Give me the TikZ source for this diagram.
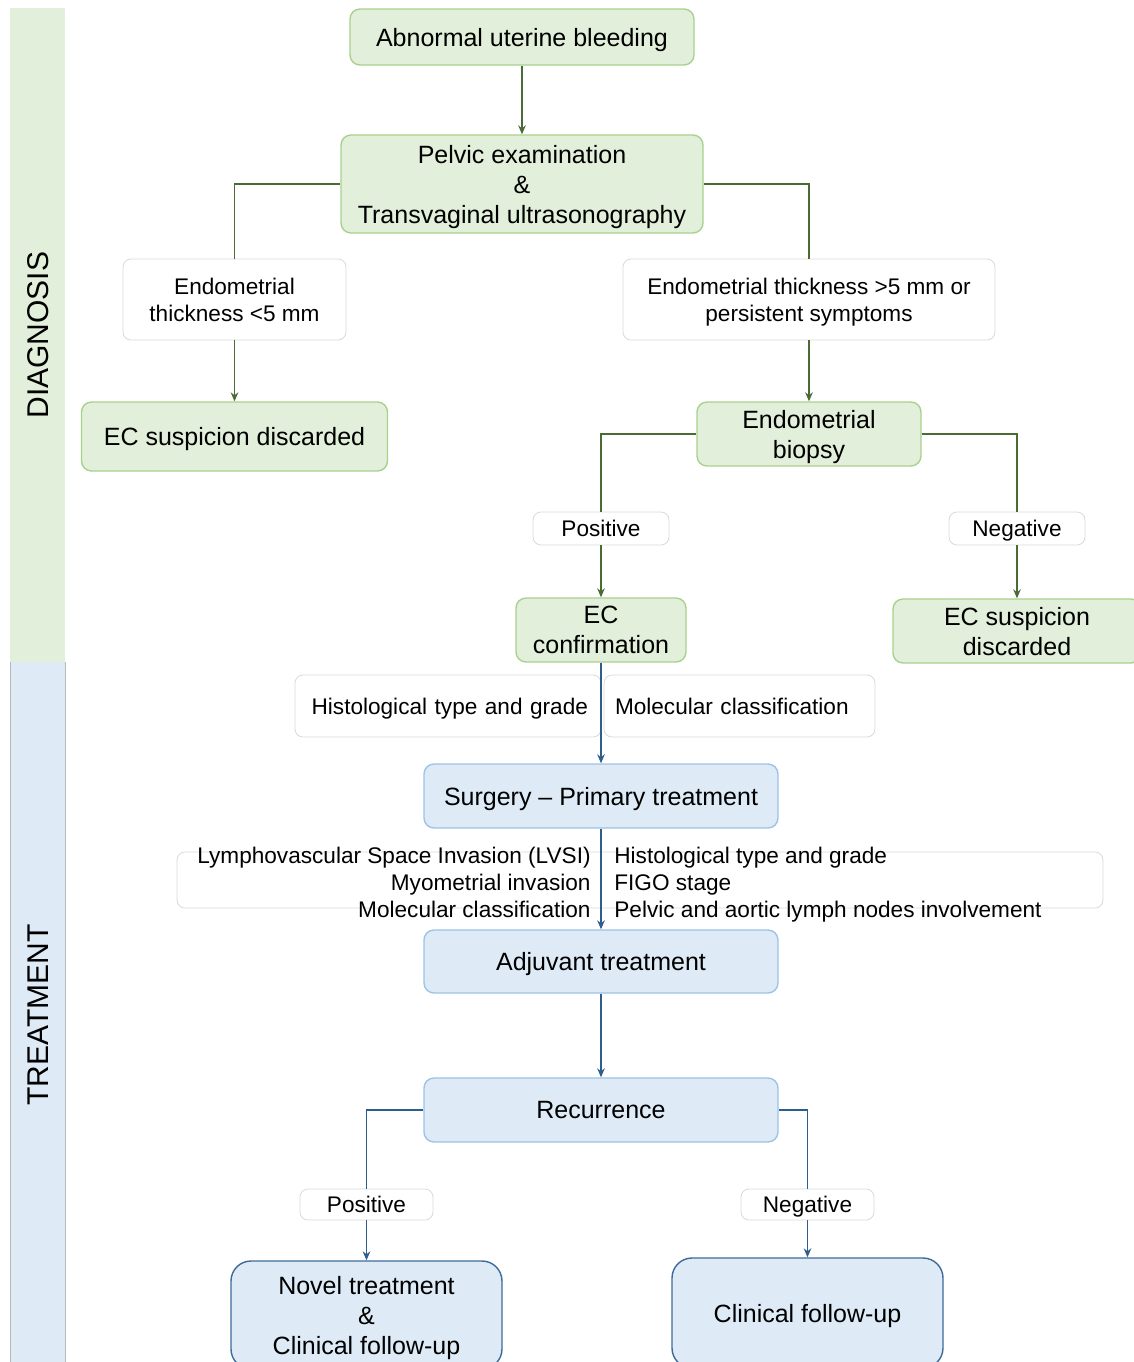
\documentclass[tikz,border=0pt]{standalone}
\usepackage{fontspec}
\setmainfont{Liberation Sans}
\usetikzlibrary{arrows.meta}
\definecolor{gfill}{HTML}{E2EFDA}
\definecolor{gborder}{HTML}{A9D18E}
\definecolor{gline}{HTML}{4A6B35}
\definecolor{bfill}{HTML}{DEEBF7}
\definecolor{bborder}{HTML}{9DC3E6}
\definecolor{bdark}{HTML}{3E6A98}
\definecolor{bline}{HTML}{2F5D8C}
\definecolor{lgrey}{HTML}{D9D9D9}
\definecolor{sidegrey}{HTML}{B8B8B8}
\begin{document}
\begin{tikzpicture}[x=0.5pt,y=-0.5pt,
 main/.style={rounded corners=5pt, align=center, inner sep=0pt, line width=0.7pt, text depth=0pt, font=\fontsize{12.5}{15}\selectfont},
 gbox/.style={main, fill=gfill, draw=gborder},
 bbox/.style={main, fill=bfill, draw=bborder},
 dbox/.style={main, fill=bfill, draw=bdark, rounded corners=10pt},
 lbl/.style={rounded corners=4pt, fill=white, draw=lgrey, line width=0.4pt, align=center, inner sep=0pt, text depth=0pt, font=\fontsize{11.3}{13.5}\selectfont},
 crt/.style={inner sep=0pt, text depth=0pt, font=\fontsize{11.3}{13.5}\selectfont},
 gl/.style={draw=gline, line width=0.6pt},
 ga/.style={gl, -{Stealth[length=4.5pt,width=3.8pt]}},
 bl/.style={draw=bline, line width=0.6pt},
 ba/.style={bl, -{Stealth[length=4.5pt,width=3.8pt]}},
 side/.style={rotate=90, text depth=0pt, font=\fontsize{15}{18}\selectfont},
]
\useasboundingbox (0,0) rectangle (1134,1362);
% side bars
\fill[gfill] (10,8) rectangle (65,662);
\fill[bfill] (10,662) rectangle (65,1370);
\draw[sidegrey, line width=0.5pt] (10,662) -- (10,1370) (65,662) -- (65,1370);
\node[side] (dg) at (38,335) {DIAGNOSIS};
\node[side] (tr) at (38,1015) {TREATMENT};

% diagnosis
\node[gbox, minimum width=172pt, minimum height=28pt] (n1) at (522,37) {Abnormal uterine bleeding};
\node[gbox, minimum width=181pt, minimum height=49pt] (n2) at (522,184) {Pelvic examination\\\&\\Transvaginal ultrasonography};
\node[lbl, minimum width=111.5pt, minimum height=40.5pt] (t1) at (234.5,299.5) {Endometrial\\thickness <5 mm};
\node[lbl, minimum width=186pt, minimum height=40.5pt] (t2) at (809,299.5) {Endometrial thickness >5 mm or\\persistent symptoms};
\node[gbox, minimum width=153pt, minimum height=34.5pt] (d1) at (234.5,436.5) {EC suspicion discarded};
\node[gbox, minimum width=112pt, minimum height=32pt] (bio) at (809,434) {Endometrial\\biopsy};
\node[lbl, minimum width=68pt, minimum height=16.5pt] (p1) at (601,528.5) {Positive};
\node[lbl, minimum width=68pt, minimum height=16.5pt] (ng1) at (1017,528.5) {Negative};
\node[gbox, minimum width=85pt, minimum height=32pt] (ec) at (601,630) {EC\\confirmation};
\node[gbox, minimum width=124pt, minimum height=32pt] (d2) at (1017,631) {EC suspicion\\discarded};

% treatment
\node[lbl, inner xsep=6.5pt, text width=140pt, align=right, minimum height=31pt] (hist) at (448,706) {Histological type and grade};
\node[lbl, inner xsep=5.5pt, text width=124.5pt, align=left, minimum height=31pt] (mol) at (739.5,706) {Molecular classification};
\node[bbox, minimum width=177pt, minimum height=32pt] (surg) at (601,796) {Surgery -- Primary treatment};
\node[lbl, minimum width=463pt, minimum height=28pt] (crit) at (640,880) {};
\node[crt, anchor=east, align=right] (critL) at (591,882) {Lymphovascular Space Invasion (LVSI)\\Myometrial invasion\\Molecular classification};
\node[crt, anchor=west, align=left] (critR) at (614,882) {Histological type and grade\\FIGO stage\\Pelvic and aortic lymph nodes involvement};
\node[bbox, minimum width=177pt, minimum height=31.5pt] (adj) at (601,961.5) {Adjuvant treatment};
\node[bbox, minimum width=177pt, minimum height=32pt] (rec) at (601,1110) {Recurrence};
\node[lbl, minimum width=66.5pt, minimum height=15.5pt] (p2) at (366.5,1204.5) {Positive};
\node[lbl, minimum width=66.5pt, minimum height=15.5pt] (ng2) at (807.5,1204.5) {Negative};
\node[dbox, minimum width=135.5pt, minimum height=54pt] (nov) at (366.5,1315) {Novel treatment\\\&\\Clinical follow-up};
\node[dbox, minimum width=135.5pt, minimum height=55pt] (cf) at (807.5,1313) {Clinical follow-up};

% connectors
\draw[ga] (n1.south) -- (n2.north);
\draw[gl] (n2.west) -| (t1.north);
\draw[gl] (n2.east) -| (t2.north);
\draw[ga] (t1.south) -- (d1.north);
\draw[ga] (t2.south) -- (bio.north);
\draw[gl] (bio.west) -| (p1.north);
\draw[gl] (bio.east) -| (ng1.north);
\draw[ga] (p1.south) -- (ec.north);
\draw[ga] (ng1.south) -- (d2.north);
\draw[ba] (ec.south) -- (surg.north);
\draw[ba] (surg.south) -- (adj.north);
\draw[ba] (adj.south) -- (rec.north);
\draw[bl] (rec.west) -| (p2.north);
\draw[bl] (rec.east) -| (ng2.north);
\draw[ba] (p2.south) -- (nov.north);
\draw[ba] (ng2.south) -- (cf.north);
\end{tikzpicture}
\end{document}
